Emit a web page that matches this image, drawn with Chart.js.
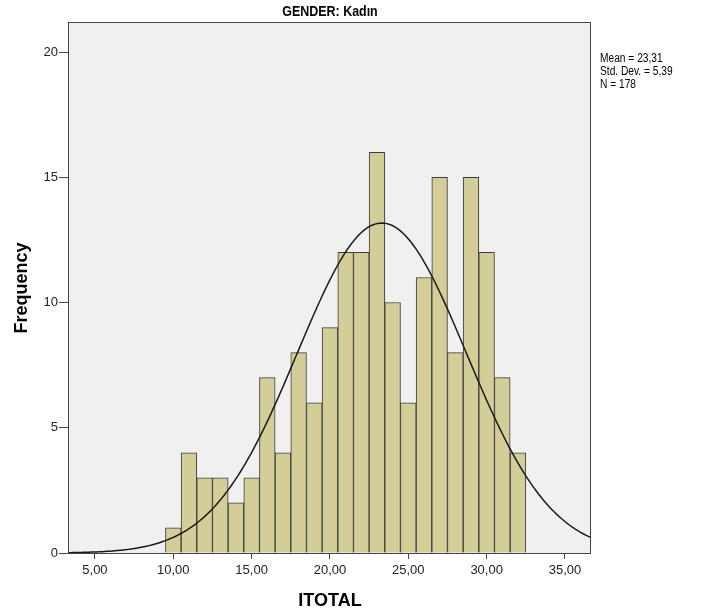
<!DOCTYPE html>
<html>
<head>
<meta charset="utf-8">
<script src="https://cdn.jsdelivr.net/npm/chart.js@4/dist/chart.umd.min.js"></script>
<style>
  html, body { margin: 0; padding: 0; background: #ffffff; }
  #wrap { width: 701px; height: 614px; position: relative; }
</style>
</head>
<body>
<div id="wrap"><canvas id="hist"></canvas></div>
<script>
// Histogram bins (lower edge of each 1-unit bin) and counts
const binStarts = [9.5, 10.5, 11.5, 12.5, 13.5, 14.5, 15.5, 16.5, 17.5, 18.5, 19.5, 20.5,
                   21.5, 22.5, 23.5, 24.5, 25.5, 26.5, 27.5, 28.5, 29.5, 30.5, 31.5];
const counts = [1, 4, 3, 3, 2, 3, 7, 4, 8, 6, 9, 12, 12, 16, 10, 6, 11, 15, 8, 15, 12, 7, 4];
const xTicks = [5, 10, 15, 20, 25, 30, 35];
const yTicks = [0, 5, 10, 15, 20];
const statLines = ['Mean = 23,31', 'Std. Dev. = 5,39', 'N = 178'];
const mean = 23.31, stdDev = 5.39, nTotal = 178, binWidth = 1;

const xMin = 3.28, xMax = 36.66;
const yMax = 21.2;

// normal curve from the reported mean / sd
const curve = [];
for (let i = 0; i <= 200; i++) {
    const x = xMin + (xMax - xMin) * i / 200;
    const z = (x - mean) / stdDev;
    curve.push({ x: x, y: nTotal * binWidth / (stdDev * Math.sqrt(2 * Math.PI)) * Math.exp(-0.5 * z * z) });
}

const fontFam = "'Liberation Sans', Arial, sans-serif";

// draw text squeezed horizontally (reference uses a narrow face)
function narrowText(ctx, txt, x, y, sx) {
    ctx.save();
    ctx.translate(x, y);
    ctx.scale(sx, 1);
    ctx.fillText(txt, 0, 0);
    ctx.restore();
}

const frame = {
    id: 'frame',
    beforeDraw(chart) {
        const { ctx, chartArea: a } = chart;
        ctx.save();
        ctx.fillStyle = '#f0f0f0';
        ctx.fillRect(a.left, a.top, a.right - a.left, a.bottom - a.top);
        ctx.restore();
    },
    afterDraw(chart) {
        const { ctx, chartArea: a } = chart;
        ctx.save();
        ctx.strokeStyle = '#444444';
        ctx.lineWidth = 1;
        ctx.strokeRect(a.left + 0.5, a.top + 0.5, a.right - a.left - 1, a.bottom - a.top);

        ctx.fillStyle = '#000';
        ctx.textAlign = 'center';
        ctx.textBaseline = 'middle';
        ctx.font = 'bold 15px ' + fontFam;
        narrowText(ctx, 'GENDER: Kadın', 330, 12, 0.83);

        ctx.font = 'bold 18px ' + fontFam;
        ctx.fillText('ITOTAL', 330, 601);

        ctx.save();
        ctx.translate(22, 288);
        ctx.rotate(-Math.PI / 2);
        ctx.fillText('Frequency', 0, 0);
        ctx.restore();

        ctx.textAlign = 'left';
        ctx.font = '12px ' + fontFam;
        statLines.forEach((t, i) => narrowText(ctx, t, a.right + 9, 59 + i * 13, 0.85));
        ctx.restore();
    }
};

new Chart(document.getElementById('hist'), {
    data: {
        datasets: [
            {
                type: 'line',
                data: curve,
                borderColor: '#1a1a1a',
                borderWidth: 1.5,
                pointRadius: 0,
                tension: 0,
                order: 0
            },
            {
                type: 'bar',
                data: binStarts.map((s, i) => ({ x: s + binWidth / 2, y: counts[i] })),
                backgroundColor: '#d3ce98',
                borderColor: '#3c3c3c',
                borderWidth: 1,
                barPercentage: 1,
                categoryPercentage: 1,
                order: 1
            }
        ]
    },
    options: {
        responsive: true,
        maintainAspectRatio: false,
        animation: false,
        devicePixelRatio: 1,
        layout: { padding: { left: 0, right: 110, top: 22, bottom: 0 } },
        plugins: { legend: { display: false }, tooltip: { enabled: false } },
        scales: {
            x: {
                type: 'linear',
                offset: false,
                min: xMin,
                max: xMax,
                afterBuildTicks: (s) => { s.ticks = xTicks.map(v => ({ value: v })); },
                afterFit: (s) => { s.height = 61; },
                ticks: {
                    color: '#222',
                    font: { family: fontFam, size: 13 },
                    padding: 4,
                    maxRotation: 0,
                    callback: (v) => v.toFixed(2).replace('.', ',')
                },
                grid: { offset: false, drawOnChartArea: false, drawTicks: true, tickLength: 6, color: '#444' },
                border: { display: false }
            },
            y: {
                min: 0,
                max: yMax,
                afterBuildTicks: (s) => { s.ticks = yTicks.map(v => ({ value: v })); },
                afterFit: (s) => { s.width = 68; },
                ticks: {
                    color: '#222',
                    font: { family: fontFam, size: 13 },
                    padding: 1
                },
                grid: { drawOnChartArea: false, drawTicks: true, tickLength: 9, color: '#444' },
                border: { display: false }
            }
        }
    },
    plugins: [frame]
});
</script>
</body>
</html>
